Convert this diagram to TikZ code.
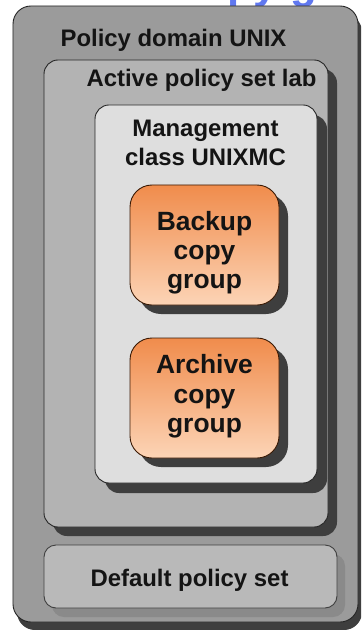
\documentclass[tikz,border=0pt]{standalone}
\usepackage{fontspec}
\setmainfont{Liberation Sans}
\usetikzlibrary{shadows}
\definecolor{domainfill}{HTML}{9B9B9B}
\definecolor{activefill}{HTML}{B3B3B3}
\definecolor{mgmtfill}{HTML}{DEDEDE}
\definecolor{deffill}{HTML}{B9B9B9}
\definecolor{darkshadow}{HTML}{3E3E3E}
\definecolor{lightshadow}{HTML}{8A8A8A}
\definecolor{orangetop}{HTML}{F08C4C}
\definecolor{orangebot}{HTML}{FCD4B6}
\definecolor{orangeline}{HTML}{3A1A05}
\definecolor{titleblue}{HTML}{6078F0}
\begin{document}
\begin{tikzpicture}[x=1bp,y=-1bp]
\tikzset{
  box/.style={draw=black!85, line width=0.9bp, inner sep=0pt, outer sep=0pt},
  dshadow/.style={general shadow={fill=darkshadow, shadow xshift=#1, shadow yshift=-#1}},
  lbl/.style={font=\bfseries\fontsize{24}{28}\selectfont, anchor=base, inner sep=0pt, text=black!92},
  biglbl/.style={lbl, font=\bfseries\fontsize{26.5}{30}\selectfont},
  orangebox/.style={box, draw=orangeline, rounded corners=22bp, top color=orangetop, bottom color=orangebot, middle color=orangetop!50!orangebot, minimum width=149bp, minimum height=120bp, dshadow=9bp},
}
\useasboundingbox (0,0) rectangle (361,630);
\fill[white] (0,0) rectangle (361,630);
\begin{scope}
\clip (0,0) rectangle (361,630);
% cut-off title above
\node[anchor=base west, inner sep=0pt, text=titleblue, font=\bfseries\fontsize{44}{50}\selectfont] (title) at (227,-1) {py g};
% policy domain
\node[box, rounded corners=18bp, fill=domainfill, minimum width=345bp, minimum height=616bp,
      general shadow={fill=darkshadow, shadow xshift=4bp, shadow yshift=-8bp}] (domain) at (185.5,314) {};
\end{scope}
\node[lbl] (domaintxt) at (173.5,47) {Policy domain UNIX};
% active policy set
\node[box, rounded corners=14bp, fill=activefill, minimum width=284bp, minimum height=467bp, dshadow=9bp] (active) at (186,293.5) {};
\node[lbl] (activetxt) at (201.5,87) {Active policy set lab};
% management class
\node[box, rounded corners=14bp, fill=mgmtfill, minimum width=222bp, minimum height=378bp, dshadow=10bp] (mgmt) at (206,294) {};
\node[lbl] (mgmt1) at (205.5,137) {Management};
\node[lbl] (mgmt2) at (205.5,166) {class UNIXMC};
% backup copy group
\node[orangebox] (backup) at (204.5,245) {};
\node[biglbl] (b1) at (204.5,230) {Backup};
\node[biglbl] (b2) at (204.5,259) {copy};
\node[biglbl] (b3) at (204.5,288) {group};
% archive copy group
\node[orangebox] (archive) at (204.5,398) {};
\node[biglbl] (a1) at (204.5,373) {Archive};
\node[biglbl] (a2) at (204.5,403) {copy};
\node[biglbl] (a3) at (204.5,432) {group};
% default policy set
\node[box, draw=black!75, rounded corners=12bp, fill=deffill, minimum width=293bp, minimum height=63bp,
      general shadow={fill=lightshadow, shadow xshift=8bp, shadow yshift=-9bp}] (default) at (190.5,576.5) {};
\node[lbl] (deftxt) at (189.5,586) {Default policy set};
\end{tikzpicture}
\end{document}
